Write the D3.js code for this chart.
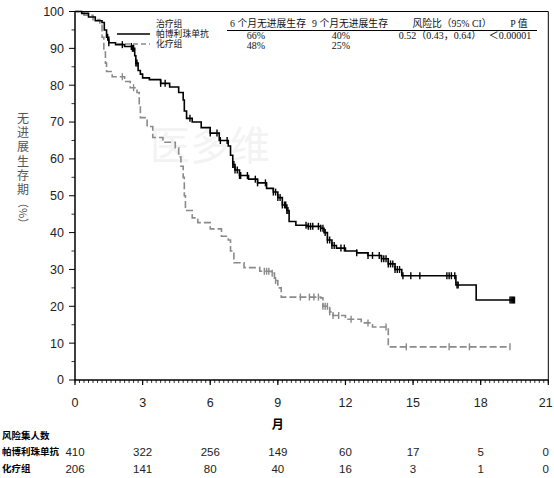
<!DOCTYPE html>
<html>
<head>
<meta charset="utf-8">
<script src="https://cdn.jsdelivr.net/npm/d3@7"></script>
<style>
  body { margin: 0; background: #fff; }
  svg { display: block; }
</style>
</head>
<body>
<svg id="chart" width="554" height="478"></svg>
<script>
// KM curves: [month, % progression-free]
var pembroCurve = [[0,100],[0.3,99.5],[0.6,98.5],[0.9,97.5],[1.2,97],[1.3,95],[1.4,93],[1.5,91.5],[1.8,91],[2.2,90.5],[2.55,90],[2.65,88],[2.7,86],[2.8,84],[2.9,83],[3.0,82],[3.3,81.5],[3.8,80.5],[4.2,79.5],[4.6,78],[4.8,76],[4.85,73],[4.95,71],[5.2,70],[5.6,68.5],[6.0,67],[6.4,65],[6.8,63.5],[6.9,61],[7.0,58.5],[7.1,57],[7.3,55.5],[7.7,54.5],[8.1,53.5],[8.5,52],[8.8,51],[9.0,49.5],[9.2,47.5],[9.4,46],[9.5,43],[9.8,42],[10.3,41.7],[10.9,41.2],[11.05,40],[11.2,38],[11.4,36.5],[11.6,35.8],[12.0,35],[12.5,34.5],[13.0,33.8],[13.6,32.9],[13.9,31.5],[14.2,30],[14.5,28.3],[16.9,25.8],[17.8,21.7],[19.5,21.7]];
var chemoCurve = [[0,100],[0.4,99],[0.8,97.8],[1.1,96.5],[1.2,93],[1.28,89],[1.35,86],[1.4,83.7],[1.65,82.3],[2.2,81],[2.45,79.3],[2.75,78],[2.85,75],[2.9,71.2],[3.2,68.8],[3.45,65.8],[3.9,64.5],[4.45,63],[4.6,60.5],[4.7,58],[4.8,55],[4.85,50],[4.9,46],[5.2,44],[5.45,42.7],[6.0,41],[6.5,39],[6.8,38],[6.9,35],[7.05,31.8],[7.5,30.5],[8.2,29.5],[8.7,29],[8.85,27],[9.0,25],[9.15,22.5],[10.9,22.3],[11.0,20],[11.3,18.5],[11.45,17.5],[12.0,16.5],[12.7,15.5],[13.2,14.4],[13.9,9],[19.3,9]];

// censored observations (months)
var pembroCensor = [1.45,1.5,2.1,2.5,2.55,2.6,2.7,2.75,3.8,4.0,5.1,6.0,6.3,6.45,6.75,7.0,7.05,7.1,7.2,7.3,7.35,7.65,8.0,8.1,8.45,8.8,8.9,9.0,9.1,9.2,9.3,9.35,9.4,9.45,10.25,10.35,10.45,10.55,10.8,10.9,11.0,11.1,11.2,11.3,11.4,11.5,11.8,11.95,12.5,13.0,13.2,13.5,13.6,13.7,13.8,13.9,14.0,14.1,14.2,14.3,14.4,14.55,14.9,15.3,16.5,16.6,16.7,16.85,16.95,17.0,19.3,19.35,19.4,19.45,19.5];
var chemoCensor = [2.1,2.6,8.4,8.5,8.6,8.75,8.9,10.0,10.4,10.6,10.8,11.0,11.1,11.2,11.3,11.45,11.7,12.25,13.0,13.8,14.7,16.6,17.5,19.3];

// legend table
var legendLabels = ["治疗组", "帕博利珠单抗", "化疗组"];
var tableHeads = ["6 个月无进展生存", "9 个月无进展生存", "风险比（95% CI）", "P 值"];
var pembroRow = ["66%", "40%", "0.52（0.43，0.64）", "＜0.00001"];
var chemoRow = ["48%", "25%"];

// number at risk
var riskLabels = ["风险集人数", "帕博利珠单抗", "化疗组"];
var riskMonths = [0, 3, 6, 9, 12, 15, 18, 21];
var pembroRisk = [410, 322, 256, 149, 60, 17, 5, 0];
var chemoRisk = [206, 141, 80, 40, 16, 3, 1, 0];

var svg = d3.select("#chart");
var x = d3.scaleLinear().domain([0, 21]).range([75, 548.3]);
var y = d3.scaleLinear().domain([0, 100]).range([380, 11.5]);
var sans = "'Liberation Sans', Arial, sans-serif";
var serif = "'Liberation Serif', 'Noto Sans CJK SC', serif";
var cjk = "'Noto Sans CJK SC', sans-serif";

// faint watermark
svg.append("text")
    .attr("x", 150).attr("y", 160)
    .attr("font-family", cjk).attr("font-size", 40)
    .attr("fill", "#f3f3f3")
    .text("医多维");

// frame (top + right)
svg.append("path")
    .attr("d", "M" + x(0) + "," + y(100) + "H" + x(21) + "V" + y(0))
    .attr("fill", "none").attr("stroke", "#000").attr("stroke-width", 1);

// x axis with minor ticks
var xAxis = svg.append("g").attr("transform", "translate(0," + y(0) + ")");
xAxis.append("line").attr("x1", x(0)).attr("x2", x(21)).attr("stroke", "#000").attr("stroke-width", 1.5);
xAxis.selectAll("line.minor")
    .data(d3.range(0, 21.01, 0.2))
  .enter().append("line")
    .attr("class", "minor")
    .attr("x1", function(d) { return x(d); }).attr("x2", function(d) { return x(d); })
    .attr("y1", 0).attr("y2", 3)
    .attr("stroke", "#000").attr("stroke-width", 0.8);
xAxis.selectAll("line.major")
    .data(riskMonths)
  .enter().append("line")
    .attr("class", "major")
    .attr("x1", function(d) { return x(d); }).attr("x2", function(d) { return x(d); })
    .attr("y1", 0).attr("y2", 5)
    .attr("stroke", "#000").attr("stroke-width", 1.2);
xAxis.selectAll("text")
    .data(riskMonths)
  .enter().append("text")
    .attr("x", function(d) { return x(d); })
    .attr("dx", function(d) { return d === 21 ? -2.5 : 0; })
    .attr("y", 27)
    .attr("text-anchor", "middle")
    .attr("font-family", sans).attr("font-size", 12.5).attr("fill", "#222")
    .text(function(d) { return d; });

// y axis
var yAxis = svg.append("g").attr("transform", "translate(" + x(0) + ",0)");
yAxis.append("line").attr("y1", y(0)).attr("y2", y(100)).attr("stroke", "#000").attr("stroke-width", 1.5);
yAxis.selectAll("line.minor")
    .data(d3.range(5, 100, 10))
  .enter().append("line")
    .attr("class", "minor")
    .attr("y1", function(d) { return y(d); }).attr("y2", function(d) { return y(d); })
    .attr("x1", 0).attr("x2", -3.5)
    .attr("stroke", "#000").attr("stroke-width", 0.8);
yAxis.selectAll("line.major")
    .data(d3.range(0, 101, 10))
  .enter().append("line")
    .attr("class", "major")
    .attr("y1", function(d) { return y(d); }).attr("y2", function(d) { return y(d); })
    .attr("x1", 0).attr("x2", -6)
    .attr("stroke", "#000").attr("stroke-width", 1);
yAxis.selectAll("text")
    .data(d3.range(0, 101, 10))
  .enter().append("text")
    .attr("x", -11)
    .attr("y", function(d) { return y(d); })
    .attr("dy", "0.35em")
    .attr("text-anchor", "end")
    .attr("font-family", sans).attr("font-size", 12.5).attr("fill", "#222")
    .text(function(d) { return d; });

// y title, stacked characters in one text element
var yTitle = svg.append("text")
    .attr("text-anchor", "middle")
    .attr("font-family", cjk).attr("font-size", 12).attr("fill", "#555");
yTitle.selectAll("tspan")
    .data("无进展生存期".split(""))
  .enter().append("tspan")
    .attr("x", 23)
    .attr("y", function(d, i) { return 123 + i * 14.2; })
    .text(function(d) { return d; });
svg.append("text")
    .attr("transform", "translate(19,213) rotate(90)")
    .attr("text-anchor", "middle")
    .attr("font-family", cjk).attr("font-size", 11).attr("fill", "#555")
    .text("（%）");

// legend lines (behind curves)
svg.append("line").attr("x1", 117).attr("x2", 150).attr("y1", 34).attr("y2", 34)
    .attr("stroke", "#000").attr("stroke-width", 1.5);
svg.append("line").attr("x1", 117).attr("x2", 150).attr("y1", 44).attr("y2", 44)
    .attr("stroke", "#8a8a8a").attr("stroke-width", 1.5).attr("stroke-dasharray", "5,3");

// curves
var line = d3.line()
    .x(function(d) { return x(d[0]); })
    .y(function(d) { return y(d[1]); })
    .curve(d3.curveStepAfter);

svg.append("path").datum(chemoCurve)
    .attr("d", line)
    .attr("fill", "none").attr("stroke", "#8a8a8a").attr("stroke-width", 1.6)
    .attr("stroke-dasharray", "7,3");
svg.append("path").datum(pembroCurve)
    .attr("d", line)
    .attr("fill", "none").attr("stroke", "#000").attr("stroke-width", 1.6);

function valueAt(curve, t) {
  var v = curve[0][1];
  for (var i = 0; i < curve.length; i++) {
    if (curve[i][0] <= t) v = curve[i][1];
  }
  return v;
}

function drawCensor(times, curve, color) {
  svg.append("g").selectAll("line")
      .data(times)
    .enter().append("line")
      .attr("x1", function(d) { return x(d); }).attr("x2", function(d) { return x(d); })
      .attr("y1", function(d) { return y(valueAt(curve, d)) - 3.5; })
      .attr("y2", function(d) { return y(valueAt(curve, d)) + 3.5; })
      .attr("stroke", color).attr("stroke-width", 1.4);
}
drawCensor(chemoCensor, chemoCurve, "#8a8a8a");
drawCensor(pembroCensor, pembroCurve, "#000");

// legend labels, one text block
var legend = svg.append("text")
    .attr("font-family", cjk).attr("font-size", 8.8).attr("fill", "#111");
legend.selectAll("tspan")
    .data(legendLabels)
  .enter().append("tspan")
    .attr("x", 156)
    .attr("y", function(d, i) { return 27 + i * 10; })
    .text(function(d) { return d; });

// summary table
var colX = [268, 350, 452, 519];
svg.append("g").selectAll("text")
    .data(tableHeads)
  .enter().append("text")
    .attr("x", function(d, i) { return colX[i]; })
    .attr("y", 27)
    .attr("text-anchor", "middle")
    .attr("font-family", serif).attr("font-size", 9.8).attr("fill", "#111")
    .text(function(d) { return d; });
svg.append("line").attr("x1", 227).attr("x2", 537).attr("y1", 30.5).attr("y2", 30.5)
    .attr("stroke", "#000").attr("stroke-width", 1);
var rowX = [256, 341, 440, 510];
svg.append("g").selectAll("text")
    .data(pembroRow)
  .enter().append("text")
    .attr("x", function(d, i) { return rowX[i]; })
    .attr("y", 38.5)
    .attr("text-anchor", "middle")
    .attr("font-family", serif).attr("font-size", 10).attr("fill", "#111")
    .text(function(d) { return d; });
svg.append("g").selectAll("text")
    .data(chemoRow)
  .enter().append("text")
    .attr("x", function(d, i) { return rowX[i]; })
    .attr("y", 49)
    .attr("text-anchor", "middle")
    .attr("font-family", serif).attr("font-size", 10).attr("fill", "#111")
    .text(function(d) { return d; });

// x title
svg.append("text")
    .attr("x", x(9)).attr("y", 429)
    .attr("text-anchor", "middle")
    .attr("font-family", cjk).attr("font-size", 12).attr("font-weight", "bold")
    .text("月");

// number at risk table
var riskRowY = [436, 452, 469];
svg.append("g").selectAll("text")
    .data(riskLabels)
  .enter().append("text")
    .attr("x", 2)
    .attr("y", function(d, i) { return riskRowY[i]; })
    .attr("dy", "0.35em")
    .attr("font-family", cjk).attr("font-size", 9.5).attr("font-weight", "bold")
    .text(function(d) { return d; });

function riskRow(vals, yy) {
  svg.append("g").selectAll("text")
      .data(vals)
    .enter().append("text")
      .attr("x", function(d, i) { return x(riskMonths[i]); })
      .attr("dx", function(d, i) { return riskMonths[i] === 21 ? -2.5 : 0; })
      .attr("y", yy)
      .attr("dy", "0.35em")
      .attr("text-anchor", "middle")
      .attr("font-family", sans).attr("font-size", 11.5).attr("fill", "#222")
      .text(function(d) { return d; });
}
riskRow(pembroRisk, riskRowY[1]);
riskRow(chemoRisk, riskRowY[2]);
</script>
</body>
</html>
